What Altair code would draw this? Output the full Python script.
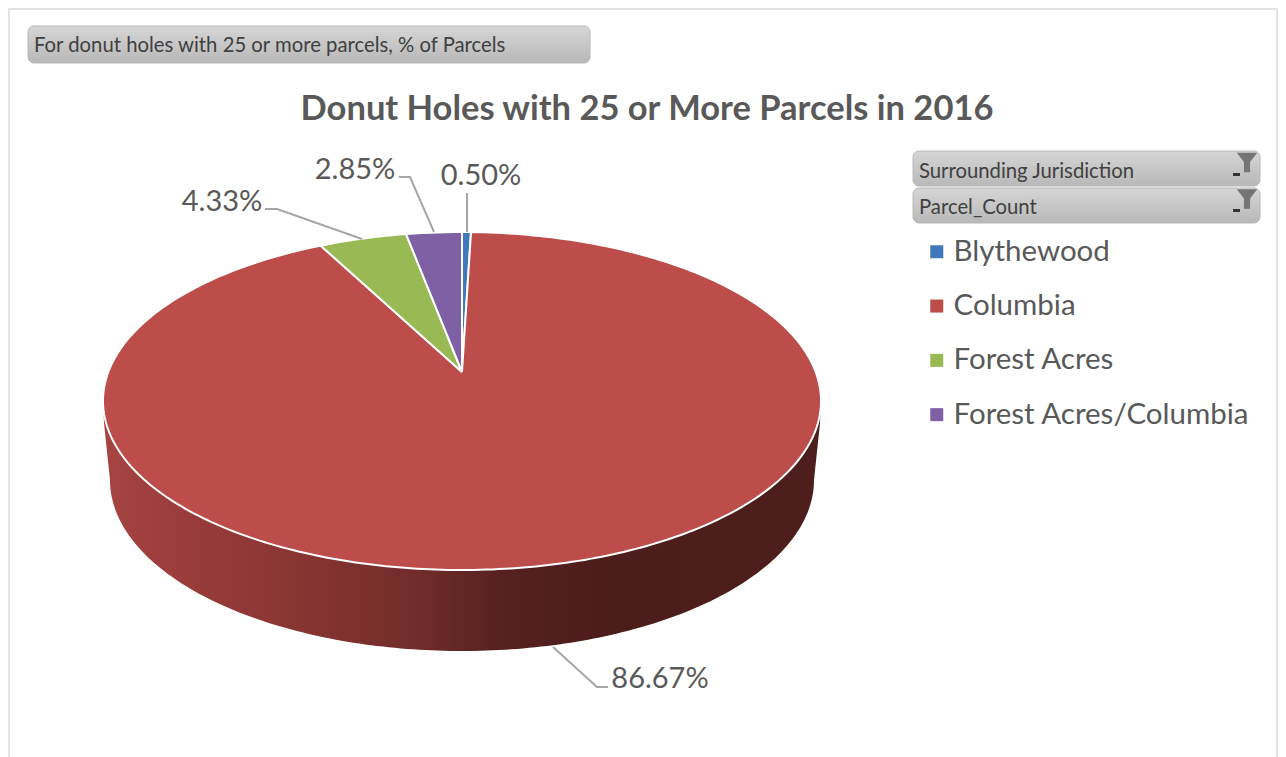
import math
import numpy as np
import pandas as pd
import altair as alt

# ---- values
names = ["Blythewood", "Columbia", "Forest Acres", "Forest Acres/Columbia"]
printed_pct = ["0.50%", "86.67%", "4.33%", "2.85%"]
drawn_share = [0.40, 93.16, 3.95, 2.49]   # share of the ring as drawn
colors = ["#3f78bd", "#bc4d4b", "#98b954", "#7f60a4"]
title_text = "Donut Holes with 25 or More Parcels in 2016"
filter_texts = ["For donut holes with 25 or more parcels, % of Parcels", "Surrounding Jurisdiction", "Parcel_Count"]
wall_stops = [104, 200, 300, 420, 500, 600, 820]
wall_colors = ["#a64442", "#973b39", "#883532", "#702c2a", "#562120", "#4d1d1b", "#4e1e1c"]

# ---- layout
W, H = 1270, 749
X0, Y0 = 8, 8
CX, CY, RX, RY = 462, 401, 359, 169
APEX_Y = 372
BCY, BRX, BRY = 480, 352, 171
FONT = "Lato"
TXT = "#595959"

xs = alt.Scale(domain=[X0, X0 + W], range=[0, W], nice=False, zero=False)
ys = alt.Scale(domain=[Y0 + H, Y0], range=[H, 0], nice=False, zero=False)
X = lambda f: alt.X(f, type="quantitative", scale=xs, axis=None)
Y = lambda f: alt.Y(f, type="quantitative", scale=ys, axis=None)

# ---- top face polygons, derived from the shares
rows = []
start = 0.0
for name, share in zip(names, drawn_share):
    end = start + share * 3.6
    n = max(3, int((end - start) / 1.0))
    pts = [(CX, APEX_Y)]
    for a in np.linspace(start, end, n):
        r = math.radians(a)
        pts.append((CX + RX * math.sin(r), CY - RY * math.cos(r)))
    pts.append((CX, APEX_Y))
    for i, (px, py) in enumerate(pts):
        rows.append({"name": name, "i": i, "x": px, "y": py})
    start = end
faces = pd.DataFrame(rows)

# ---- side wall outline
outline = [(CX - RX, CY), (CX - RX + 1, CY + 22)]
for a in np.linspace(180, 0, 181):
    r = math.radians(a)
    outline.append((CX + BRX * math.cos(r), BCY + BRY * math.sin(r)))
outline += [(CX + RX - 1, CY + 22), (CX + RX, CY), (CX - RX, CY)]
wall = pd.DataFrame([{"i": i, "x": p[0], "y": p[1]} for i, p in enumerate(outline)])
span = wall_stops[-1] - wall_stops[0]
wall_grad = alt.LinearGradient(
    gradient="linear", x1=0, y1=0, x2=1, y2=0,
    stops=[alt.GradientStop(color=c, offset=(s - wall_stops[0]) / span)
           for s, c in zip(wall_stops, wall_colors)])
wall_layer = alt.Chart(wall).mark_line(fill=wall_grad, strokeWidth=0).encode(
    x=X("x"), y=Y("y"), order=alt.Order("i:Q"))

face_layer = alt.Chart(faces).mark_line(stroke="white", strokeWidth=2, strokeJoin="round").encode(
    x=X("x"), y=Y("y"), order=alt.Order("i:Q"), detail="name:N",
    fill=alt.Fill("name:N", scale=alt.Scale(domain=names, range=colors),
                  legend=alt.Legend(orient="none", legendX=914, legendY=229, title=None,
                                    labelFont=FONT, labelFontSize=29.5, labelColor=TXT,
                                    symbolType="square", symbolSize=169, symbolStrokeWidth=0,
                                    labelOffset=2, rowPadding=23.3, labelLimit=400)),
)

# ---- leader lines
leaders = pd.DataFrame(
    [dict(g=0, i=0, x=265, y=209), dict(g=0, i=1, x=277, y=209), dict(g=0, i=2, x=362, y=239),
     dict(g=1, i=0, x=399, y=177), dict(g=1, i=1, x=410, y=177), dict(g=1, i=2, x=434, y=232),
     dict(g=2, i=0, x=467, y=193), dict(g=2, i=1, x=467, y=232),
     dict(g=3, i=0, x=553, y=647), dict(g=3, i=1, x=597, y=687), dict(g=3, i=2, x=608, y=687)]
)
leader_layer = alt.Chart(leaders).mark_line(color="#a6a6a6", strokeWidth=2).encode(
    x=X("x"), y=Y("y"), order=alt.Order("i:Q"), detail="g:N")

labels = pd.DataFrame({"t": printed_pct, "x": [481, 660, 222, 355], "y": [175.5, 679, 201.5, 169.5]})
label_layer = alt.Chart(labels).mark_text(font=FONT, fontSize=29, color=TXT, align="center", baseline="middle").encode(
    x=X("x"), y=Y("y"), text="t:N")

title_layer = alt.Chart(pd.DataFrame({"t": [title_text], "x": [647], "y": [110]})).mark_text(
    font=FONT, fontSize=34.5, fontWeight="bold", color=TXT, align="center", baseline="middle").encode(
    x=X("x"), y=Y("y"), text="t:N")

# ---- filter buttons
btn = pd.DataFrame({"x": [28, 913, 913], "x2": [590, 1260, 1260], "y": [26, 151, 188], "y2": [63, 186, 223]})
grad = alt.LinearGradient(gradient="linear", x1=0, y1=0, x2=0, y2=1,
                          stops=[alt.GradientStop(color="#d6d6d6", offset=0),
                                 alt.GradientStop(color="#b8b8b8", offset=1)])
btn_layer = alt.Chart(btn).mark_rect(fill=grad, stroke="#b8b8b8", strokeWidth=1, cornerRadius=6).encode(
    x=X("x"), x2="x2", y=Y("y"), y2="y2")
btn_text = pd.DataFrame({"t": filter_texts, "x": [34, 919, 919], "y": [46, 172, 208]})
btn_text_layer = alt.Chart(btn_text).mark_text(font=FONT, fontSize=20.3, color="#404040", align="left", baseline="middle").encode(
    x=X("x"), y=Y("y"), text="t:N")

funnel = pd.DataFrame({"x": [1247, 1247], "y": [163, 199.5]})
funnel_layer = alt.Chart(funnel).mark_point(
    shape="M-1,-1L1,-1L0.3,-0.1L0.3,0.9L-0.3,0.9L-0.3,-0.1Z", filled=True, color="#757575", size=420, opacity=1).encode(
    x=X("x"), y=Y("y"))
dash = pd.DataFrame({"x": [1233, 1233], "x2": [1240, 1240], "y": [173, 209], "y2": [176, 212]})
dash_layer = alt.Chart(dash).mark_rect(color="#333333").encode(x=X("x"), x2="x2", y=Y("y"), y2="y2")

# ---- outer frame
frame = pd.DataFrame({"x": [X0, X0, X0 + W - 2], "x2": [X0 + W, X0 + 2, X0 + W], "y": [X0, X0, X0], "y2": [X0 + 2, Y0 + H, Y0 + H]})
frame_layer = alt.Chart(frame).mark_rect(color="#e3e3e3").encode(x=X("x"), x2="x2", y=Y("y"), y2="y2")

chart = alt.layer(
    frame_layer, wall_layer, face_layer, leader_layer, label_layer, title_layer,
    btn_layer, btn_text_layer, funnel_layer, dash_layer,
).resolve_scale(color="independent", fill="independent").properties(
    width=W, height=H, padding=0, autosize="none", background="white"
).configure_view(strokeWidth=0)

chart.save("out.html", embed_options={"renderer": "svg", "actions": False})
